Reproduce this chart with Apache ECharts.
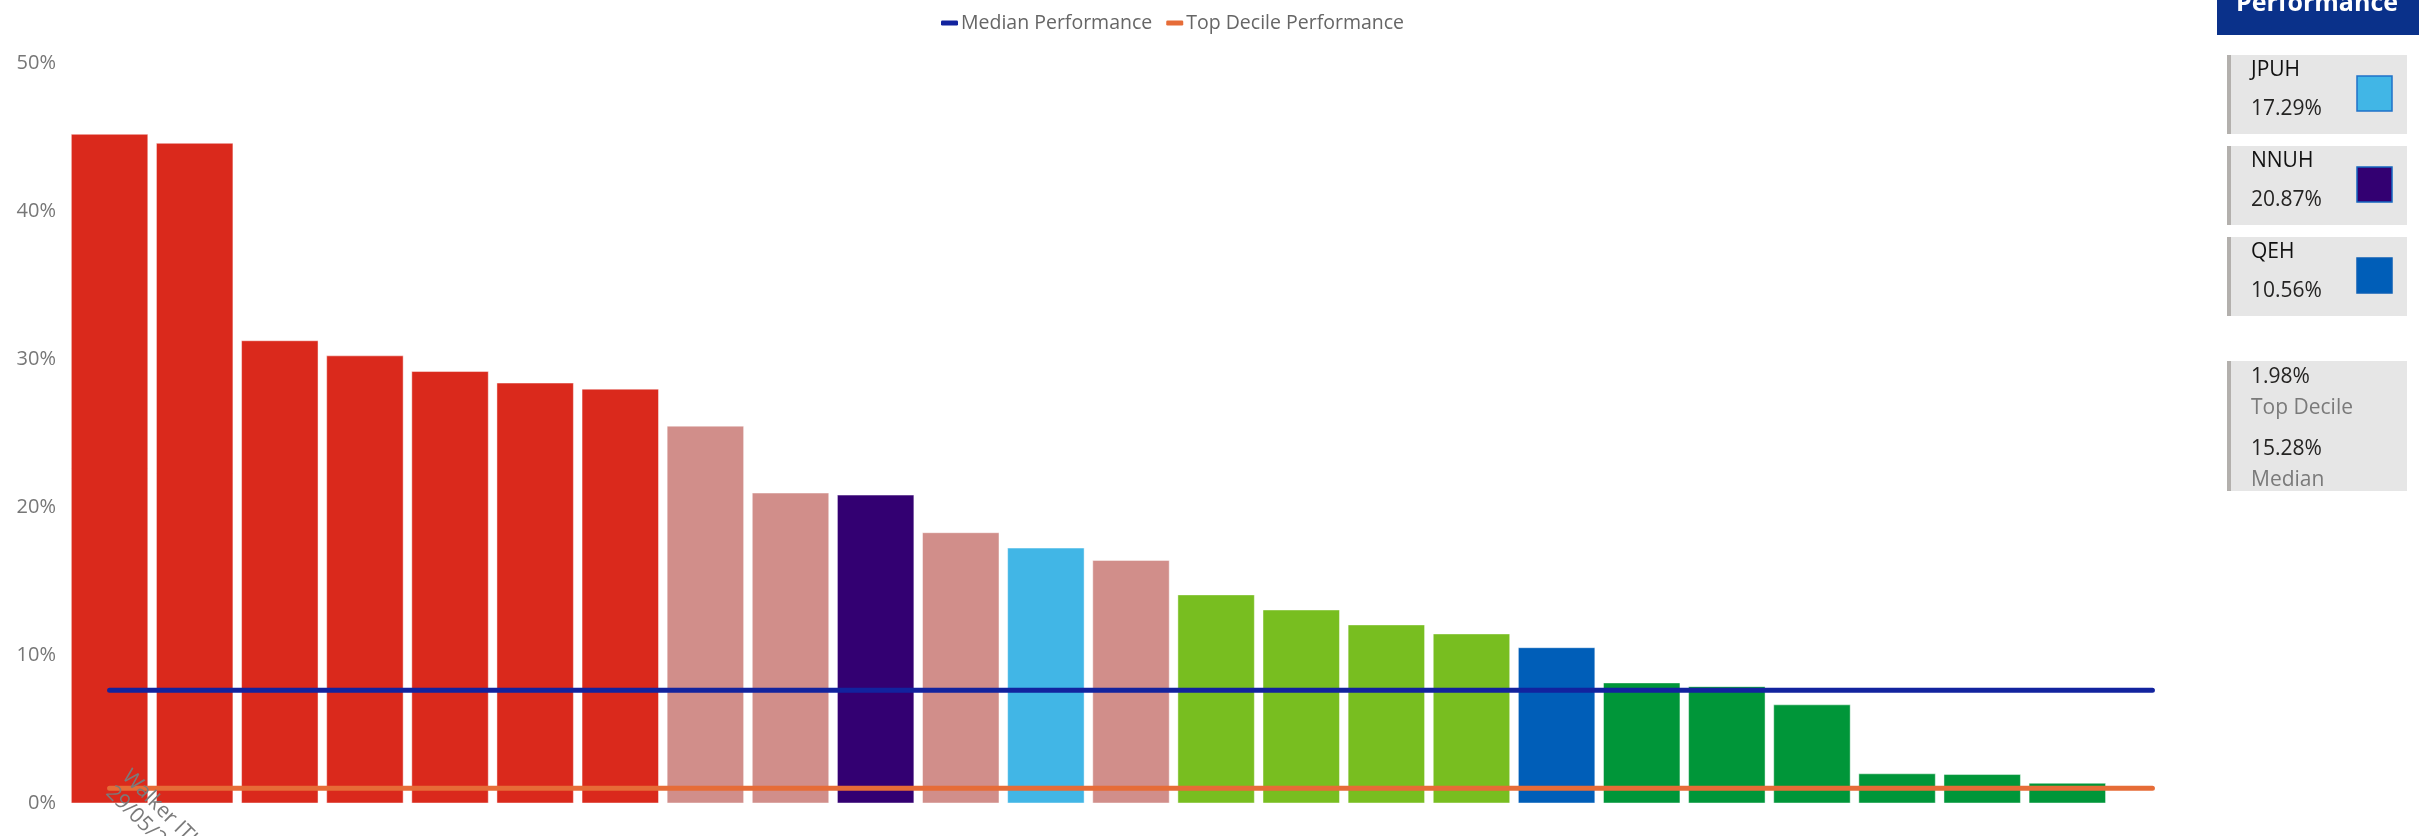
<!DOCTYPE html>
<html>
<head>
<meta charset="utf-8">
<script src="https://cdn.jsdelivr.net/npm/echarts@6/dist/echarts.min.js"></script>
<style>
  html, body { margin: 0; padding: 0; background: #ffffff; }
  #chart { width: 2419px; height: 836px; }
</style>
</head>
<body>
<div id="chart"></div>
<script>
// ---- data ----
const categories = [
  'Walker ITU\n29/05/2023', 'Site 2', 'Site 3', 'Site 4', 'Site 5', 'Site 6', 'Site 7',
  'Site 8', 'Site 9', 'NNUH', 'Site 11', 'JPUH', 'Site 13', 'Site 14', 'Site 15',
  'Site 16', 'Site 17', 'QEH', 'Site 19', 'Site 20', 'Site 21', 'Site 22', 'Site 23',
  'Site 24', 'Site 25'
];
const performance = [
  45.25, 44.64, 31.30, 30.28, 29.22, 28.44, 28.03, 25.53, 21.01, 20.87, 18.33, 17.29,
  16.46, 14.13, 13.11, 12.10, 11.49, 10.56, 8.18, 7.93, 6.70, 2.04, 1.99, 1.40, null
];
const bandGroup = [
  'worst', 'worst', 'worst', 'worst', 'worst', 'worst', 'worst', 'poor', 'poor', 'NNUH',
  'poor', 'JPUH', 'poor', 'fair', 'fair', 'fair', 'fair', 'QEH', 'best', 'best', 'best',
  'best', 'best', 'best', null
];
const medianPerformance = [
  7.66, 7.66, 7.66, 7.66, 7.66, 7.66, 7.66, 7.66, 7.66, 7.66, 7.66, 7.66, 7.66,
  7.66, 7.66, 7.66, 7.66, 7.66, 7.66, 7.66, 7.66, 7.66, 7.66, 7.66, 7.66
];
const topDecilePerformance = [
  1.03, 1.03, 1.03, 1.03, 1.03, 1.03, 1.03, 1.03, 1.03, 1.03, 1.03, 1.03, 1.03,
  1.03, 1.03, 1.03, 1.03, 1.03, 1.03, 1.03, 1.03, 1.03, 1.03, 1.03, 1.03
];
const yTicks = [0, 10, 20, 30, 40, 50];
const panelHospitals = ['JPUH', 'NNUH', 'QEH'];
const panelValues = ['17.29%', '20.87%', '10.56%'];
const topDecileCard = '1.98%';
const medianCard = '15.28%';

// ---- styles ----
const groupColors = {
  worst: '#da291c', poor: '#d18e8a', fair: '#78be20', best: '#009639',
  NNUH: '#330072', JPUH: '#41b6e6', QEH: '#005eb8'
};
const squareBorders = { JPUH: '#1f72c9', NNUH: '#1565c0', QEH: '#0b5fb5' };
const FONT = "'Open Sans', 'Noto Sans', sans-serif";

const barData = performance.map((v, i) => ({
  value: v,
  itemStyle: { color: bandGroup[i] ? groupColors[bandGroup[i]] : 'transparent' }
}));

// right-hand panel graphics
const graphic = [];
graphic.push({
  type: 'rect', shape: { x: 2217, y: 0, width: 202, height: 35 },
  style: { fill: '#0a318a' }
});
graphic.push({
  type: 'text', x: 2317, y: 4,
  style: { text: 'Performance', fill: '#ffffff', font: "bold 25px 'Open Sans', sans-serif",
           align: 'center', verticalAlign: 'middle' }
});
const cardTops = [55, 146, 237];
panelHospitals.forEach((h, k) => {
  const top = cardTops[k];
  graphic.push({ type: 'rect', shape: { x: 2227, y: top, width: 180, height: 79 }, style: { fill: '#e6e6e6' } });
  graphic.push({ type: 'rect', shape: { x: 2227, y: top, width: 4, height: 79 }, style: { fill: '#b3b0ad' } });
  graphic.push({ type: 'text', x: 2251, y: top + 15,
    style: { text: h, fill: '#111111', font: "21px 'Open Sans', sans-serif", verticalAlign: 'middle' } });
  graphic.push({ type: 'text', x: 2251, y: top + 54,
    style: { text: panelValues[k], fill: '#252423', font: "21px 'Open Sans', sans-serif", verticalAlign: 'middle' } });
  graphic.push({ type: 'rect', shape: { x: 2357, y: top + 21, width: 35, height: 35 },
    style: { fill: groupColors[h], stroke: squareBorders[h], lineWidth: 1.5 } });
});
graphic.push({ type: 'rect', shape: { x: 2227, y: 361, width: 180, height: 130 }, style: { fill: '#e6e6e6' } });
graphic.push({ type: 'rect', shape: { x: 2227, y: 361, width: 4, height: 130 }, style: { fill: '#b3b0ad' } });
graphic.push({ type: 'text', x: 2251, y: 377,
  style: { text: topDecileCard, fill: '#252423', font: "21px 'Open Sans', sans-serif", verticalAlign: 'middle' } });
graphic.push({ type: 'text', x: 2251, y: 408,
  style: { text: 'Top Decile', fill: '#7a7a7a', font: "21px 'Open Sans', sans-serif", verticalAlign: 'middle' } });
graphic.push({ type: 'text', x: 2251, y: 449,
  style: { text: medianCard, fill: '#252423', font: "21px 'Open Sans', sans-serif", verticalAlign: 'middle' } });
graphic.push({ type: 'text', x: 2251, y: 480,
  style: { text: 'Median', fill: '#7a7a7a', font: "21px 'Open Sans', sans-serif", verticalAlign: 'middle' } });

const chart = echarts.init(document.getElementById('chart'), null, { renderer: 'canvas' });
chart.setOption({
  animation: false,
  backgroundColor: '#ffffff',
  textStyle: { fontFamily: FONT },
  legend: {
    data: ['Median Performance', 'Top Decile Performance'],
    left: 936, top: 8,
    icon: 'roundRect', itemWidth: 17, itemHeight: 5, itemGap: 14,
    textStyle: { color: '#666666', fontSize: 19.5, fontFamily: FONT, padding: [0, 0, 0, -2] }
  },
  grid: { left: 67, right: 224, top: 63.5, bottom: 32.5, containLabel: false, outerBoundsMode: 'none' },
  xAxis: {
    type: 'category',
    data: categories,
    boundaryGap: true,
    z: 6,
    axisLine: { show: false },
    axisTick: { show: false },
    axisLabel: {
      interval: (idx) => idx === 0,
      rotate: -45,
      margin: -30,
      padding: [0, 0, 0, 11],
      color: '#7a7a7a',
      fontSize: 21,
      lineHeight: 23,
      fontFamily: FONT
    }
  },
  yAxis: {
    type: 'value',
    min: yTicks[0],
    max: yTicks[yTicks.length - 1],
    interval: yTicks[1] - yTicks[0],
    splitLine: { show: false },
    axisLine: { show: false },
    axisTick: { show: false },
    axisLabel: { formatter: '{value}%', color: '#777777', fontSize: 20, margin: 11, fontFamily: FONT }
  },
  series: [
    {
      name: 'Performance',
      type: 'bar',
      data: barData,
      barCategoryGap: '9%',
      itemStyle: { borderColor: 'rgba(255,255,255,0.45)', borderWidth: 1 },
      z: 2
    },
    {
      name: 'Median Performance',
      type: 'line',
      data: medianPerformance,
      symbol: 'none',
      lineStyle: { color: '#12239e', width: 5, cap: 'round' },
      itemStyle: { color: '#12239e' },
      z: 4
    },
    {
      name: 'Top Decile Performance',
      type: 'line',
      data: topDecilePerformance,
      symbol: 'none',
      lineStyle: { color: '#e66c37', width: 5, cap: 'round' },
      itemStyle: { color: '#e66c37' },
      z: 4
    }
  ],
  graphic: graphic
});
</script>
</body>
</html>
